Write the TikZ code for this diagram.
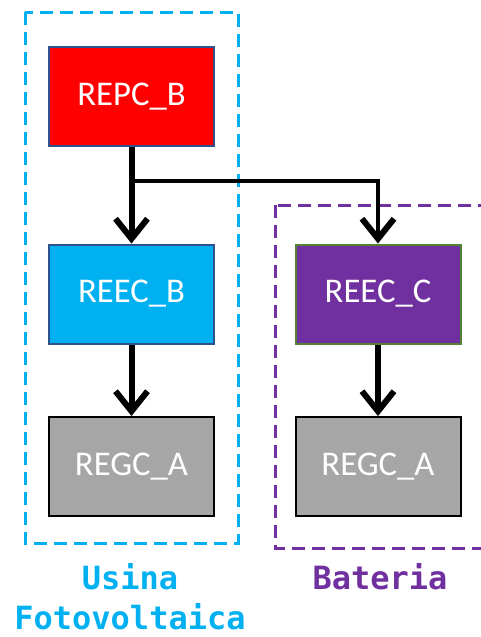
\documentclass[tikz,border=0pt]{standalone}
\usepackage{fontspec}
\setmainfont{Carlito}
\newfontfamily\monobold{DejaVu Sans Mono Bold}
\usetikzlibrary{arrows.meta}

\definecolor{pvblue}{HTML}{00B0F0}
\definecolor{batpurple}{HTML}{7030A0}
\definecolor{boxgray}{HTML}{A6A6A6}
\definecolor{edgeblue}{HTML}{2F528F}
\definecolor{edgegreen}{HTML}{538135}

\tikzset{
	block/.style={rectangle, minimum width=123.75pt, minimum height=74.25pt,
		line width=1.5pt, text=white, font=\fontsize{26}{31}\selectfont, inner sep=0pt},
	group/.style={line width=2.25pt, dash pattern=on 10pt off 5pt},
	link/.style={line width=4.5pt, -{Straight Barb[length=15pt, width=24pt, line width=4.5pt]}},
	grouplabel/.style={font=\monobold\fontsize{24}{30}\selectfont, align=center, inner sep=1pt}
}

\begin{document}
\begin{tikzpicture}[x=0.75pt, y=-0.75pt]
			\useasboundingbox (0, 0) rectangle (480, 637);

			\draw [group, pvblue] (25, 12) rectangle (238, 543);
			\draw [group, batpurple] (275, 205) rectangle (500, 548);

			\node (repc) at (131.5, 96.5) [block, fill=red, draw=edgeblue] {REPC\_B};
			\node (reecb) at (131.5, 294) [block, fill=pvblue, draw=edgeblue] {REEC\_B};
			\node (regca) at (131.5, 466.5) [block, fill=boxgray, draw=black] {REGC\_A};
			\node (reecc) at (378, 294) [block, fill=batpurple, draw=edgegreen] {REEC\_C};
			\node (regcb) at (378, 466.5) [block, fill=boxgray, draw=black] {REGC\_A};

			\coordinate (split) at (131.5, 181);
			\draw [link] (repc) -- (reecb);
			\draw [link, line width=3.5pt] (split) -| (reecc);
			\draw [link] (reecb) -- (regca);
			\draw [link] (reecc) -- (regcb);

			\node (pvlabel) at (130, 597) [grouplabel, text=pvblue] {Usina\\Fotovoltaica};
			\node (batlabel) at (380, 577) [grouplabel, text=batpurple] {Bateria};
		\end{tikzpicture}
\end{document}
